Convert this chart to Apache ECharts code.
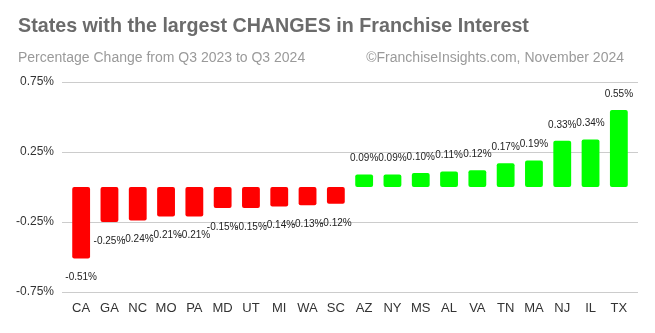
<!DOCTYPE html>
<html><head><meta charset="utf-8">
<script src="https://cdn.jsdelivr.net/npm/echarts@6/dist/echarts.min.js"></script>
<style>html,body{margin:0;padding:0;background:#fff}#c{width:655px;height:333px}</style>
</head><body><div id="c"></div>
<script>
const states = ['CA','GA','NC','MO','PA','MD','UT','MI','WA','SC','AZ','NY','MS','AL','VA','TN','MA','NJ','IL','TX'];
const changes = [-0.51,-0.25,-0.24,-0.21,-0.21,-0.15,-0.15,-0.14,-0.13,-0.12,0.09,0.09,0.10,0.11,0.12,0.17,0.19,0.33,0.34,0.55];
const yTicks = [-0.75,-0.25,0.25,0.75];
const titleText = 'States with the largest CHANGES in Franchise Interest';
const subText = 'Percentage Change from Q3 2023 to Q3 2024';
const creditText = '\u00A9FranchiseInsights.com, November 2024';

const chart = echarts.init(document.getElementById('c'));
const font = 'Liberation Sans, Arial, sans-serif';
const yMin = yTicks[0], yMax = yTicks[yTicks.length-1], yStep = yTicks[1]-yTicks[0];
chart.setOption({
  animation:false,
  textStyle:{fontFamily:font},
  title:[
    {text:titleText,left:13,top:12,textStyle:{fontFamily:font,fontSize:19.7,fontWeight:'bold',color:'#6b6b6b'}},
    {text:subText,left:13,top:46,textStyle:{fontFamily:font,fontSize:14,fontWeight:'normal',color:'#9a9a9a'}},
    {text:creditText,right:26,top:46,textStyle:{fontFamily:font,fontSize:14,fontWeight:'normal',color:'#9a9a9a'}}
  ],
  grid:[
    {left:62,right:17,top:82,bottom:41},
    {left:67,right:22,top:82,bottom:41}
  ],
  xAxis:[
    {type:'category',gridIndex:0,data:states,show:false},
    {type:'category',gridIndex:1,data:states,position:'bottom',
      axisLine:{show:false},axisTick:{show:false},
      axisLabel:{color:'#333',fontSize:13,margin:10,fontFamily:font,interval:0}}
  ],
  yAxis:[
    {type:'value',gridIndex:0,min:yMin,max:yMax,interval:yStep,
      axisLabel:{formatter:v=>v.toFixed(2)+'%',color:'#333',fontSize:12,margin:8,fontFamily:font},
      splitLine:{lineStyle:{color:'#cccccc',width:1}},
      axisLine:{show:false},axisTick:{show:false}},
    {type:'value',gridIndex:1,min:yMin,max:yMax,interval:yStep,show:false,splitLine:{show:false}}
  ],
  series:[{type:'bar',xAxisIndex:1,yAxisIndex:1,barWidth:'63%',
    data:changes.map(v=>({value:v,itemStyle:{color:v<0?'#ff0000':'#00ff00',borderRadius:2},
      label:{show:true,position:v<0?'bottom':'top',distance:v<0?14:11,formatter:p=>p.value.toFixed(2)+'%',color:'#222',fontSize:10,fontFamily:font}}))
  }]
});
</script></body></html>
